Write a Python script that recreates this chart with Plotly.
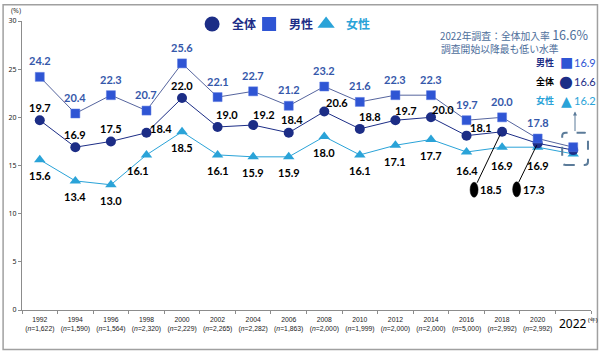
import plotly.graph_objects as go

years = [1992, 1994, 1996, 1998, 2000, 2002, 2004, 2006, 2008, 2010, 2012, 2014, 2016, 2018, 2020, 2022]
n_labels = ["1,622", "1,590", "1,564", "2,320", "2,229", "2,265", "2,282", "1,863",
            "2,000", "1,999", "2,000", "2,000", "5,000", "2,992", "2,992", ""]
male = [24.2, 20.4, 22.3, 20.7, 25.6, 22.1, 22.7, 21.2, 23.2, 21.6, 22.3, 22.3, 19.7, 20.0, 17.8, 16.9]
total = [19.7, 16.9, 17.5, 18.4, 22.0, 19.0, 19.2, 18.4, 20.6, 18.8, 19.7, 20.0, 18.1, 18.5, 17.3, 16.6]
female = [15.6, 13.4, 13.0, 16.1, 18.5, 16.1, 15.9, 15.9, 18.0, 16.1, 17.1, 17.7, 16.4, 16.9, 16.9, 16.2]

NAVY = "#1c2d86"
BLUE = "#2f55d4"
LBLUE = "#2aa3d8"
MLINE = "#56659e"
MLAB = "#3558aa"
STEEL = "#4d6e9b"
NUMFONT = "Lato"
JPFONT = "Noto Sans CJK JP"

fig = go.Figure()

fig.add_trace(go.Scatter(x=years, y=female, mode="lines+markers", showlegend=False,
                         line=dict(color=LBLUE, width=1),
                         marker=dict(symbol="triangle-up", size=10, color=LBLUE)))
fig.add_trace(go.Scatter(x=years, y=total, mode="lines+markers", showlegend=False,
                         line=dict(color=NAVY, width=1),
                         marker=dict(symbol="circle", size=10, color=NAVY)))
fig.add_trace(go.Scatter(x=years, y=male, mode="lines+markers", showlegend=False,
                         line=dict(color=MLINE, width=1),
                         marker=dict(symbol="square", size=9, color=BLUE,
                                     line=dict(color="#5a78e0", width=0.5))))

# legend-only dummy traces
fig.add_trace(go.Scatter(x=[None], y=[None], mode="markers",
                         name=f"<span style='color:{NAVY}'><b>全体</b></span>",
                         marker=dict(symbol="circle", size=15, color=NAVY)))
fig.add_trace(go.Scatter(x=[None], y=[None], mode="markers",
                         name=f"<span style='color:{NAVY}'><b>男性</b></span>",
                         marker=dict(symbol="square", size=14, color=BLUE)))
fig.add_trace(go.Scatter(x=[None], y=[None], mode="markers",
                         name=f"<span style='color:{LBLUE}'><b>女性</b></span>",
                         marker=dict(symbol="triangle-up", size=15, color=LBLUE)))
fig.add_trace(go.Scatter(x=[None], y=[None], mode="markers", name=" ",
                         marker=dict(symbol="circle", size=1, color="rgba(0,0,0,0)")))

annotations = []
lab_font = dict(family=NUMFONT, size=11, color="black")

# male labels (above)
for yr, v in zip(years, male):
    if yr == 2022:
        continue
    annotations.append(dict(x=yr, y=v, text=f"<b>{v:.1f}</b>", showarrow=False,
                            yshift=16, font=dict(family=NUMFONT, size=11, color=MLAB)))

# total labels
total_shift = {1992: (0, 13), 1994: (0, 13), 1996: (0, 13), 1998: (15, 4), 2000: (0, 13),
               2002: (9, 12), 2004: (11, 11), 2006: (3, 13), 2008: (13, 9), 2010: (10, 12),
               2012: (11, 10), 2014: (12, 8), 2016: (14, 8)}
for yr, v in zip(years, total):
    if yr in total_shift:
        xs, ys = total_shift[yr]
        annotations.append(dict(x=yr, y=v, text=f"<b>{v:.1f}</b>", showarrow=False,
                                xshift=xs, yshift=ys, font=lab_font))

# female labels (below)
for yr, v in zip(years, female):
    if yr == 2022:
        continue
    xs = -8 if yr == 1998 else 0
    ys = -18 if yr >= 2016 else -16
    annotations.append(dict(x=yr, y=v, text=f"<b>{v:.1f}</b>", showarrow=False,
                            xshift=xs, yshift=ys, font=lab_font))

# callouts for 2018 / 2020 total
shapes = []
callouts = {2018: dict(oval=(-28, -58), lab=(-23, -58), line=(-25, -51, -2, -3)),
            2020: dict(oval=(-21, -46), lab=(-16, -46), line=(-19, -39, -1, -2))}
for yr, v in zip(years, total):
    if yr in callouts:
        c = callouts[yr]
        ox, oy = c["oval"]
        shapes.append(dict(type="circle", xref="x", yref="y", xsizemode="pixel", ysizemode="pixel",
                           xanchor=yr, yanchor=v, x0=ox - 4, x1=ox + 4, y0=oy - 7.5, y1=oy + 7.5,
                           fillcolor="black", line=dict(color="black", width=0.5)))
        lx0, ly0, lx1, ly1 = c["line"]
        shapes.append(dict(type="line", xref="x", yref="y", xsizemode="pixel", ysizemode="pixel",
                           xanchor=yr, yanchor=v, x0=lx0, y0=ly0, x1=lx1, y1=ly1,
                           line=dict(color="black", width=1)))
        annotations.append(dict(x=yr, y=v, text=f"<b>{v:.1f}</b>", showarrow=False,
                                xshift=c["lab"][0], yshift=c["lab"][1], font=lab_font,
                                xanchor="left", borderpad=0))

# dashed rounded box around 2022 points
last = [male[-1], total[-1], female[-1]]
bx0, bx1 = years[-1] - 0.62, years[-1] + 0.83
by0, by1 = min(last) - 1.15, max(last) + 1.5
r_x, r_y = 0.2, 0.35
path = (f"M {bx0 + r_x},{by0} L {bx1 - r_x},{by0} Q {bx1},{by0} {bx1},{by0 + r_y} "
        f"L {bx1},{by1 - r_y} Q {bx1},{by1} {bx1 - r_x},{by1} "
        f"L {bx0 + r_x},{by1} Q {bx0},{by1} {bx0},{by1 - r_y} "
        f"L {bx0},{by0 + r_y} Q {bx0},{by0} {bx0 + r_x},{by0} Z")
shapes.append(dict(type="path", xref="x", yref="y", path=path,
                   line=dict(color="#5b7b99", width=2, dash="dash")))

# arrow from box up to right-side labels
annotations.append(dict(x=years[-1] + 0.1, y=20.6, ax=0, ay=21, axref="pixel", ayref="pixel",
                        text="", showarrow=True, arrowhead=2, arrowsize=0.8, arrowwidth=1,
                        arrowcolor="#5b7b99", standoff=0, startstandoff=0))

# right-side text block
annotations.append(dict(xref="paper", yref="paper", x=(437 - 19) / 572, y=(310 - 31) / 293,
                        xanchor="left", yanchor="middle", showarrow=False,
                        text="2022年調査：全体加入率 <span style='font-size:12.5px'>16.6%</span>",
                        font=dict(family=JPFONT, size=9.8, color=STEEL)))
annotations.append(dict(xref="paper", yref="paper", x=(438 - 19) / 572, y=(310 - 45) / 293,
                        xanchor="left", yanchor="middle", showarrow=False,
                        text="調査開始以降最も低い水準",
                        font=dict(family=JPFONT, size=9.8, color=STEEL)))
block = [("男性", NAVY, "■", BLUE, male[-1], BLUE, 59, 14),
         ("全体", "black", "●", NAVY, total[-1], NAVY, 78, 16),
         ("女性", LBLUE, "▲", LBLUE, female[-1], LBLUE, 98, 14)]
for name, ncol, sym, scol, val, vcol, py, ssz in block:
    yy = (310 - py) / 293
    annotations.append(dict(xref="paper", yref="paper", x=(556 - 19) / 572, y=yy,
                            xanchor="right", yanchor="middle", showarrow=False,
                            text=f"<b>{name}</b>", font=dict(family=JPFONT, size=9, color=ncol)))
    annotations.append(dict(xref="paper", yref="paper", x=(566 - 19) / 572, y=yy,
                            xanchor="center", yanchor="middle", showarrow=False,
                            text=sym, font=dict(family="DejaVu Sans", size=ssz, color=scol)))
    annotations.append(dict(xref="paper", yref="paper", x=(572 - 19) / 572, y=yy,
                            xanchor="left", yanchor="middle", showarrow=False,
                            text=f"{val:.1f}", font=dict(family=NUMFONT, size=11, color=vcol)))

# (%) label
annotations.append(dict(xref="paper", yref="paper", x=(13 - 19) / 572, y=(310 - 6) / 293,
                        xanchor="center", yanchor="middle", showarrow=False, text="(%)",
                        font=dict(family="Noto Sans", size=7, color="#333")))

# 2022 special tick label
annotations.append(dict(x=years[-1], y=0, yref="y", xanchor="center", yanchor="middle",
                        yshift=-13, showarrow=False, text="2022",
                        font=dict(family="Noto Sans", size=12, color="black")))
annotations.append(dict(x=years[-1], y=0, yref="y", xanchor="left", yanchor="middle",
                        xshift=13, yshift=-10, showarrow=False, text="(年)",
                        font=dict(family="Noto Sans", size=6, color="black")))

ticktext = [f"{yr}<br>(<i>n</i>={n})" if n else "" for yr, n in zip(years, n_labels)]

# outer frame
shapes.append(dict(type="rect", xref="paper", yref="paper",
                   x0=-19 / 572, x1=(597.5 - 19) / 572, y0=(310 - 350) / 293, y1=(310 - 0.5) / 293,
                   line=dict(color="#a0a0a0", width=1.5), layer="below"))

fig.update_layout(
    width=600, height=352,
    margin=dict(l=19, r=9, t=17, b=42),
    paper_bgcolor="white", plot_bgcolor="white",
    showlegend=True,
    legend=dict(orientation="h", x=(190 - 19) / 572, y=(310 - 20) / 293, xanchor="left",
                yanchor="middle", font=dict(family=JPFONT, size=12),
                bgcolor="rgba(0,0,0,0)", entrywidth=12, entrywidthmode="pixels",
                itemsizing="trace", tracegroupgap=0),
    xaxis=dict(range=[years[0] - 1, years[-1] + 1], tickmode="array", tickvals=years,
               ticktext=ticktext, ticks="", showgrid=False, zeroline=False, tickangle=0,
               showline=True, linecolor="#8c8c8c", linewidth=1, ticklabelstandoff=3,
               tickfont=dict(family="Liberation Sans Narrow, Liberation Sans", size=6.8, color="#222"),
               minor=dict(tick0=years[0] - 1, dtick=2, ticks="outside", ticklen=3,
                          tickcolor="#8c8c8c", showgrid=False)),
    yaxis=dict(range=[0, 30], dtick=5, ticks="outside", ticklen=3, tickcolor="#8c8c8c",
               showgrid=False, zeroline=False, showline=True, linecolor="#8c8c8c", linewidth=1,
               tickfont=dict(family="Noto Sans", size=7, color="#222")),
    annotations=annotations,
    shapes=shapes,
)

fig.write_html("out.html")
